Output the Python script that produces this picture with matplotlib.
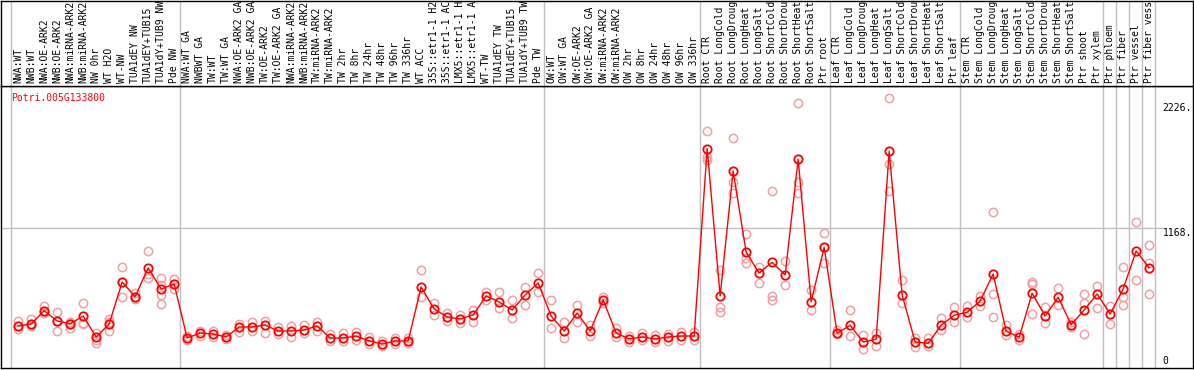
import numpy as np
import matplotlib.pyplot as plt

plt.rcParams['font.family'] = ['DejaVu Sans Mono']

GENE = "Potri.005G133800"

# ─── SAMPLE LABELS (as shown, truncated to 14 chars) ─────────────────────────
LABELS_NW = ["NWA:WT", "NWB:WT", "NWA:OE-ARK2", "NWB:OE-ARK2", "NWA:miRNA-ARK2",
             "NWB:miRNA-ARK2", "NW 0hr", "WT H2O", "WT-NW", "TUA1dEY NW",
             "TUA1dEY+TUB15", "TUA1dY+TUB9 NW", "Pde NW"]
LABELS_TW = ["NWA:WT GA", "NWBWT GA", "TW:WT", "TW:WT GA", "NWA:OE-ARK2 GA",
             "NWB:OE-ARK2 GA", "TW:OE-ARK2", "TW:OE-ARK2 GA", "NWA:miRNA-ARK2",
             "NWB:miRNA-ARK2", "TW:miRNA-ARK2", "TW:miRNA-ARK2", "TW 2hr", "TW 8hr",
             "TW 24hr", "TW 48hr", "TW 96hr", "TW 336hr", "WT ACC", "35S::etr1-1 H2",
             "35S::etr1-1 AC", "LMX5::etr1-1 H", "LMX5::etr1-1 A", "WT-TW",
             "TUA1dEY TW", "TUA1dEY+TUB15", "TUA1dY+TUB9 TW", "Pde TW"]
LABELS_OW = ["OW:WT", "OW:WT GA", "OW:OE-ARK2", "OW:OE-ARK2 GA", "OW:miRNA-ARK2",
             "OW:miRNA-ARK2", "OW 2hr", "OW 8hr", "OW 24hr", "OW 48hr", "OW 96hr",
             "OW 336hr"]
LABELS_ROOT = ["Root CTR", "Root LongCold", "Root LongDroug", "Root LongHeat",
               "Root LongSalt", "Root ShortCold", "Root ShortDrou", "Root ShortHeat",
               "Root ShortSalt", "Ptr root"]
LABELS_LEAF = ["Leaf CTR", "Leaf LongCold", "Leaf LongDroug", "Leaf LongHeat",
               "Leaf LongSalt", "Leaf ShortCold", "Leaf ShortDrou", "Leaf ShortHeat",
               "Leaf ShortSalt", "Ptr leaf"]
LABELS_STEM = ["Stem CTR", "Stem LongCold", "Stem LongDroug", "Stem LongHeat",
               "Stem LongSalt", "Stem ShortCold", "Stem ShortDrou", "Stem ShortHeat",
               "Stem ShortSalt", "Ptr shoot", "Ptr xylem", "Ptr phloem", "Ptr fiber",
               "Ptr vessel", "Ptr fiber vess"]

# ─── MEAN EXPRESSION ─────────────────────────────────────────────────────────
MEAN_NW = [339, 356, 468, 381, 358, 423, 246, 356, 711, 587, 830, 652, 694]
MEAN_TW = [237, 279, 271, 246, 330, 330, 347, 296, 296, 305, 339, 237, 237, 254,
           212, 186, 212, 212, 669, 483, 415, 398, 432, 593, 542, 474, 601, 703]
MEAN_OW = [423, 296, 449, 296, 559, 279, 229, 246, 229, 246, 254, 254]
MEAN_ROOT = [1840, 593, 1651, 963, 787, 878, 771, 1750, 544, 1005]
MEAN_LEAF = [277, 345, 203, 226, 1818, 601, 203, 192, 345, 429]
MEAN_STEM = [455, 550, 779, 296, 243, 616, 423, 582, 350, 474, 610, 440, 652,
             974, 832]

# ─── REPLICATES ──────────────────────────────────────────────────────────────
REPS_NW = [[381, 339, 313], [395, 356, 339], [508, 468, 449], [457, 381, 296],
           [375, 356, 319], [533, 367, 356], [282, 220, 197], [398, 375, 296],
           [838, 711, 584], [621, 587, 567], [976, 779, 745], [745, 686, 601, 525],
           [734, 694, 649]]
REPS_TW = [[254, 220], [296, 254], [296, 246], [262, 229], [356, 288], [373, 296],
           [381, 279], [330, 271], [339, 246], [347, 279], [373, 296], [271, 212],
           [279, 212], [288, 220], [246, 186], [212, 169], [237, 186], [237, 195],
           [813, 584], [533, 432], [449, 381], [432, 364], [474, 373], [627, 559],
           [627, 491], [559, 406], [669, 516], [787, 627]]
REPS_OW = [[559, 322], [373, 237], [516, 373], [347, 254], [584, 533], [322, 246],
           [254, 203], [279, 220], [262, 203], [271, 212], [288, 220], [288, 220]]
REPS_ROOT = [[1987, 1772, 1744], [813, 502, 460], [1928, 1560, 1465],
             [1118, 914, 872], [841, 705], [1482, 593, 559], [889, 686],
             [2224, 1560, 1465], [643, 474], [1124, 1008, 875]]
REPS_LEAF = [[305, 271], [474, 254], [262, 141], [282, 169], [2267, 1710, 1482],
             [726, 531], [237, 163], [235, 169], [409, 305], [497, 370]]
REPS_STEM = [[508, 417], [595, 508], [1303, 607, 417], [347, 262], [271, 220],
             [711, 694, 440], [502, 367], [663, 516], [326, 370], [610, 531, 271],
             [677, 491], [508, 356], [838, 584, 520], [1219, 728], [1024, 871, 610]]

# column index of each grey separator line
SEPARATORS = [0, 13, 41, 53, 63, 73, 84, 85, 86, 87, 88]
AXIS_TICKS = [2226, 1168, 0]

labels = LABELS_NW + LABELS_TW + LABELS_OW + LABELS_ROOT + LABELS_LEAF + LABELS_STEM
means = MEAN_NW + MEAN_TW + MEAN_OW + MEAN_ROOT + MEAN_LEAF + MEAN_STEM
reps = REPS_NW + REPS_TW + REPS_OW + REPS_ROOT + REPS_LEAF + REPS_STEM
xs = np.arange(len(labels)) + 0.55

W, H = 1194, 370
fig = plt.figure(figsize=(W / 100, H / 100), dpi=100)
XLIM = (-10 / 13, 1182 / 13)

ax = fig.add_axes([1 / W, 2 / H, 1192 / W, 282.5 / H])
ax_lab = fig.add_axes([1 / W, 284.5 / H, 1192 / W, 85 / H])

for a in (ax, ax_lab):
    a.set_xlim(*XLIM)
    a.set_xticks([])
    a.set_yticks([])
    for s in a.spines.values():
        s.set_color("black")
        s.set_linewidth(1)
    for sx in SEPARATORS:
        a.axvline(sx, color="#c0c0c0", lw=1, zorder=0)

ax.set_ylim(-17, 2375)
ax_lab.set_ylim(0, 1)

ax.plot([XLIM[0], 88.6], [1168, 1168], color="#c0c0c0", lw=1, zorder=0)

# replicate points
for x, r in zip(xs, reps):
    ax.plot([x] * len(r), r, "o", ms=6, mfc="none", mec="#f0a0a0", mew=1.1, zorder=2)

# mean line + points
ax.plot(xs, means, "-", color="red", lw=1, zorder=3)
ax.plot(xs, means, "o", ms=6, mfc="none", mec="red", mew=1.3, zorder=4)

for x, lab in zip(xs, labels):
    ax_lab.text(x, 0.03, lab, rotation=90, ha="center", va="bottom",
                fontsize=7, color="black", clip_on=True)

ax.text(0.0, 2310, GENE, color="red", fontsize=7, va="top", ha="left")

for t in AXIS_TICKS:
    ax.text(88.6, t, f"{t}." if t else "0", fontsize=7, ha="left",
            va="top" if t else "bottom")

fig.savefig("out.png", dpi=100)
